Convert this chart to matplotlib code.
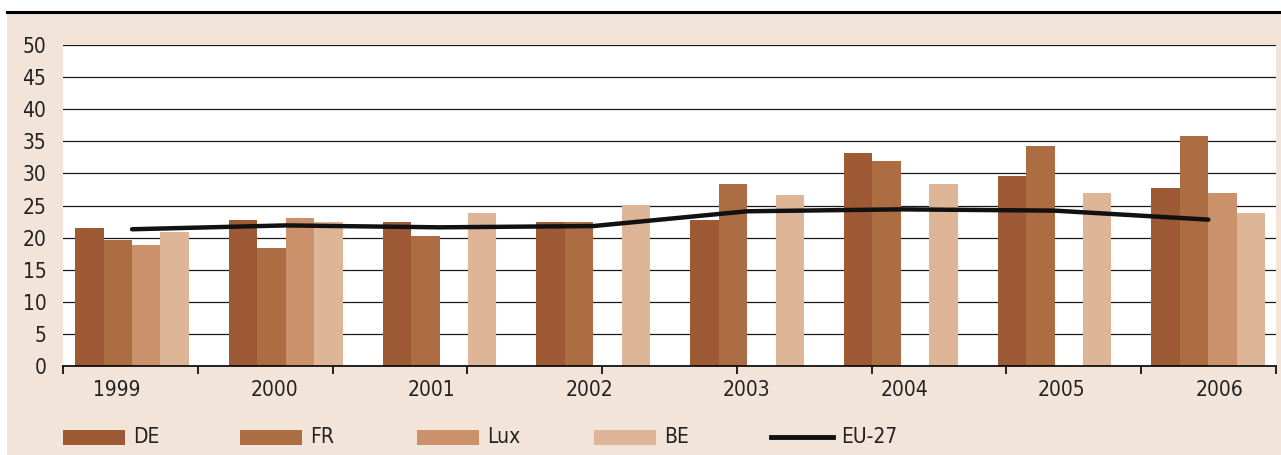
import numpy as np
import matplotlib
matplotlib.use("Agg")
import matplotlib.pyplot as plt
from matplotlib.patches import Rectangle
from matplotlib.lines import Line2D

plt.rcParams['font.family'] = ['DejaVu Sans']
plt.rcParams['font.stretch'] = 'condensed'

years = ['1999', '2000', '2001', '2002', '2003', '2004', '2005', '2006']
de = [21.5, 22.8, 22.5, 22.5, 22.8, 33.2, 29.6, 27.7]
fr = [19.6, 18.4, 20.2, 22.4, 28.3, 31.9, 34.2, 35.8]
lux = [18.9, 23.1, np.nan, np.nan, np.nan, np.nan, np.nan, 27.0]
be = [20.8, 22.5, 23.8, 25.1, 26.7, 28.3, 27.0, 23.8]
eu27 = [21.3, 21.9, 21.6, 21.8, 24.1, 24.4, 24.2, 22.8]

series = [('DE', de, '#9e5a35'), ('FR', fr, '#ad6d42'),
          ('Lux', lux, '#cb916b'), ('BE', be, '#deb597')]
beige = '#f2e4d9'

W, H = 1281, 455
fig = plt.figure(figsize=(W / 100, H / 100), dpi=100)
fig.patch.set_facecolor('white')
# beige panel and top rule
fig.add_artist(Rectangle((7 / W, 0), 1 - 7 / W, 1 - 13 / H, transform=fig.transFigure,
                         facecolor=beige, edgecolor='none', zorder=0))
fig.add_artist(Line2D([7 / W, 1], [1 - 12 / H, 1 - 12 / H], transform=fig.transFigure,
                      color='black', lw=2.2))

ax = fig.add_axes([63 / W, 1 - 366 / H, (1276 - 63) / W, (366 - 45) / H])
ax.set_facecolor('white')

x = np.arange(len(years))
w = 0.185
for i, (name, vals, col) in enumerate(series):
    ax.bar(x + (i - 1.5) * w, vals, width=w, color=col, edgecolor='none', zorder=2)
ax.plot(x, eu27, color='#111111', lw=3.2, solid_capstyle='round',
        solid_joinstyle='round', zorder=3)

ax.set_xlim(-0.449, 7.44)
ax.set_ylim(0, 50)
ax.set_yticks(range(0, 51, 5))
ax.yaxis.grid(True, color='#1a1a1a', lw=0.9)
ax.set_axisbelow(True)
for s in ['top', 'right', 'left']:
    ax.spines[s].set_visible(False)
ax.spines['bottom'].set_color('black')
ax.spines['bottom'].set_linewidth(1.2)
ax.tick_params(axis='y', length=0, pad=12, labelsize=15, colors='#222222')

# year labels and separate tick marks
ax.set_xticks(np.linspace(-0.1, 7.07, 8))
ax.set_xticklabels(years)
ax.set_xticks(np.linspace(-0.449, 7.44, 10), minor=True)
ax.tick_params(axis='x', which='major', length=0, pad=10, labelsize=15, colors='#222222')
ax.tick_params(axis='x', which='minor', length=6, width=1.2, color='black')

# legend
ly = 1 - 437 / H
labels = [s[0] for s in series] + ['EU-27']
colors = [s[2] for s in series]
for k, lab in enumerate(labels):
    x0 = (63 + 177 * k) / W
    if k < 4:
        fig.add_artist(Rectangle((x0, ly - 7.5 / H), 62 / W, 15 / H, transform=fig.transFigure,
                                 facecolor=colors[k], edgecolor='none'))
    else:
        fig.add_artist(Line2D([x0, x0 + 62 / W], [ly, ly], transform=fig.transFigure,
                              color='#111111', lw=3.5))
    fig.text(x0 + 70 / W, ly, lab, fontsize=15, va='center', ha='left', color='#222222')

fig.savefig('out.png', dpi=100)
